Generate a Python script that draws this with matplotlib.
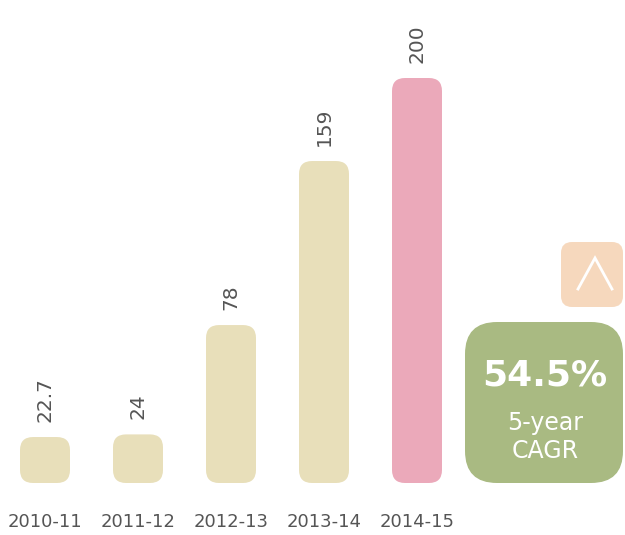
import matplotlib
matplotlib.use("Agg")
import matplotlib.pyplot as plt
from matplotlib.patches import FancyBboxPatch
from matplotlib.lines import Line2D

categories = ["2010-11", "2011-12", "2012-13", "2013-14", "2014-15"]
values = [22.7, 24, 78, 159, 200]
value_labels = ["22.7", "24", "78", "159", "200"]
cagr_value = "54.5%"
cagr_lines = ["5-year", "CAGR"]

beige = "#E8DFBA"
pink = "#EBA9BA"
green = "#A9BA82"
peach = "#F6D8BD"
grey = "#555555"
bar_colors = [beige, beige, beige, beige, pink]

W, H = 625, 535
fig = plt.figure(figsize=(W / 100, H / 100), dpi=100)
base_px = 483  # baseline from top
ax = fig.add_axes([0, (H - base_px) / H, 1, base_px / H])
ax.set_xlim(-45 / 93, (W - 45) / 93)
ax.set_ylim(0, base_px / 2.025)
ax.axis("off")

bar_w = 50 / 93
px_x = 93.0
px_y = 2.025
aspect = px_x / px_y
radius_px = 13
for i, (v, c) in enumerate(zip(values, bar_colors)):
    r = min(radius_px, v * px_y / 2 - 0.5, bar_w * px_x / 2) / px_x
    p = FancyBboxPatch((i - bar_w / 2, 0), bar_w, v,
                       boxstyle=f"round,pad=0,rounding_size={r}",
                       mutation_aspect=aspect,
                       facecolor=c, edgecolor="none")
    ax.add_patch(p)
    ax.annotate(value_labels[i], xy=(i, v), xytext=(0, 11), textcoords="offset points",
                rotation=90, ha="center", va="bottom", fontsize=14.5, color=grey)
    ax.annotate(categories[i], xy=(i, 0), xytext=(0, -28), textcoords="offset points",
                ha="center", va="center", fontsize=13, color=grey)

# overlay in pixel coordinates for CAGR badge
ov = fig.add_axes([0, 0, 1, 1], facecolor="none")
ov.set_xlim(0, W)
ov.set_ylim(H, 0)
ov.axis("off")

gb = FancyBboxPatch((465, 322), 158, 161, boxstyle="round,pad=0,rounding_size=32",
                    facecolor=green, edgecolor="none")
ov.add_patch(gb)
pb = FancyBboxPatch((561, 242), 62, 65, boxstyle="round,pad=0,rounding_size=11",
                    facecolor=peach, edgecolor="none")
ov.add_patch(pb)
ov.add_line(Line2D([578, 595, 612], [289, 258, 289], color="white", lw=2.0,
                   solid_joinstyle="miter"))

ov.text(545, 376, cagr_value, ha="center", va="center", fontsize=26,
        fontweight="bold", color="white")
ov.text(545, 423, cagr_lines[0], ha="center", va="center", fontsize=17, color="white")
ov.text(545, 451, cagr_lines[1], ha="center", va="center", fontsize=17, color="white")

fig.savefig("out.png", dpi=100)
